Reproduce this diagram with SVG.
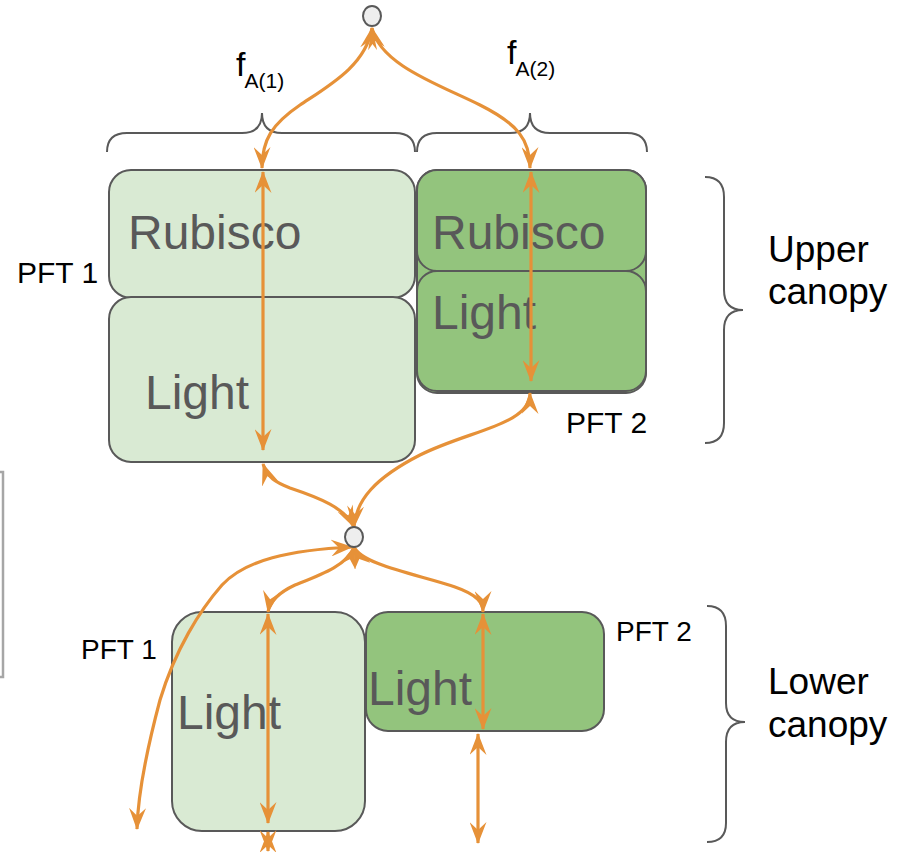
<svg xmlns="http://www.w3.org/2000/svg" width="900" height="852" viewBox="0 0 900 852">
  <defs>
    <marker id="head" viewBox="0 0 22 17" refX="21" refY="8.5" markerWidth="22" markerHeight="17" markerUnits="userSpaceOnUse" orient="auto-start-reverse">
      <path d="M0,0 L22,8.5 L0,17 L8,8.5 Z" fill="#e69138"/>
    </marker>
  </defs>
  <style>
    .pale { fill: #d9ead3; stroke: #595959; stroke-width: 2; }
    .dark { fill: #93c47d; stroke: #595959; stroke-width: 2; }
    .big { font-family: "Liberation Sans", Arial, sans-serif; font-size: 48px; fill: #595959; }
    .pft { font-family: "Liberation Sans", Arial, sans-serif; fill: #000; }
    .layer { font-family: "Liberation Sans", Arial, sans-serif; font-size: 37px; fill: #000; }
    .brace { fill: none; stroke: #595959; stroke-width: 2; }
    .flow { fill: none; stroke: #e69138; stroke-width: 3.2; marker-start: url(#head); marker-end: url(#head); }
    .junction { fill: #eeeeee; stroke: #595959; stroke-width: 2; }
  </style>

  <!-- partial frame at the left edge -->
  <rect x="-20" y="472" width="23" height="205" fill="none" stroke="#a6a6a6" stroke-width="2.5"/>

  <!-- braces -->
  <g id="braces">
    <path class="brace" d="M107 152 Q107 133 127 133 L242 133 Q262 133 262 113 Q262 133 282 133 L395 133 Q415 133 415 152"/>
    <path class="brace" d="M417 152 Q417 133 437 133 L510 133 Q530 133 530 113 Q530 133 550 133 L627 133 Q647 133 647 152"/>
    <path class="brace" d="M705 177 Q724 177 724 197 L724 290 Q724 310 743 310 Q724 310 724 330 L724 423 Q724 443 705 443"/>
    <path class="brace" d="M707 606 Q726 606 726 626 L726 703 Q726 722 745 722 Q726 722 726 742 L726 823 Q726 842 707 842"/>
  </g>

  <!-- upper canopy, PFT 1 -->
  <g id="upper-pft1">
    <rect class="pale" x="109" y="170" width="306" height="128" rx="22"/>
    <rect class="pale" x="109" y="297" width="306" height="165" rx="22"/>
    <text class="big" x="128" y="249">Rubisco</text>
    <text class="big" x="145" y="409">Light</text>
    <text class="pft" x="17" y="283" font-size="30">PFT 1</text>
  </g>

  <!-- upper canopy, PFT 2 -->
  <g id="upper-pft2">
    <rect class="dark" x="417" y="170" width="229" height="223" rx="20"/>
    <rect class="dark" x="417" y="170" width="229" height="101" rx="20"/>
    <rect class="dark" x="417" y="271" width="229" height="120" rx="20"/>
    <text class="big" x="432" y="249">Rubisco</text>
    <text class="big" x="432" y="329">Light</text>
    <text class="pft" x="566" y="433" font-size="30">PFT 2</text>
  </g>

  <!-- lower canopy, PFT 1 -->
  <g id="lower-pft1">
    <rect class="pale" x="172" y="612" width="193" height="219" rx="30"/>
    <text class="big" x="177" y="729">Light</text>
    <text class="pft" x="81" y="659" font-size="28">PFT 1</text>
  </g>

  <!-- lower canopy, PFT 2 -->
  <g id="lower-pft2">
    <rect class="dark" x="366" y="612" width="238" height="119" rx="22"/>
    <text class="big" x="368" y="705">Light</text>
    <text class="pft" x="616" y="641" font-size="28">PFT 2</text>
  </g>

  <!-- layer labels -->
  <g id="labels">
    <text class="layer" x="768" y="262">Upper</text>
    <text class="layer" x="768" y="304">canopy</text>
    <text class="layer" x="768" y="694">Lower</text>
    <text class="layer" x="768" y="737">canopy</text>
    <text font-family="Liberation Sans, Arial, sans-serif" font-size="34" x="236" y="76">f<tspan font-size="21" dy="12" dx="-1">A(1)</tspan></text>
    <text font-family="Liberation Sans, Arial, sans-serif" font-size="34" x="507" y="64">f<tspan font-size="21" dy="12" dx="-1">A(2)</tspan></text>
  </g>

  <!-- fluxes -->
  <g id="connectors">
    <path class="flow" d="M372 28 C366 65 330 85 300 105 C272 124 262 140 262 168"/>
    <path class="flow" d="M372 28 C380 65 440 85 480 105 C518 124 530 140 530 168"/>
    <path class="flow" d="M263 172 L263 450"/>
    <path class="flow" d="M531 172 L531 381"/>
    <path class="flow" d="M263 464 C268 478 275 482 290 488 C320 498 345 508 354 527"/>
    <path class="flow" d="M530 393 C530 425 470 430 420 455 C375 478 356 500 354 527"/>
    <path class="flow" d="M354 547 C348 565 320 575 295 585 C280 592 270 600 268 612"/>
    <path class="flow" d="M354 547 C362 565 420 575 455 587 C478 595 483 603 483 612"/>
    <path class="flow" d="M352 547 C290 550 245 560 222 585 C200 610 175 650 160 700 C148 745 138 790 137 829"/>
    <path class="flow" d="M268 614 L268 823"/>
    <path class="flow" d="M268 832 L268 851"/>
    <path class="flow" d="M483 614 L483 729"/>
    <path class="flow" d="M478 734 L478 843"/>
  </g>

  <!-- junctions -->
  <g id="junction-top"><ellipse class="junction" cx="372" cy="16" rx="9" ry="10"/></g>
  <g id="junction-mid"><ellipse class="junction" cx="354" cy="537" rx="9" ry="10"/></g>
</svg>
